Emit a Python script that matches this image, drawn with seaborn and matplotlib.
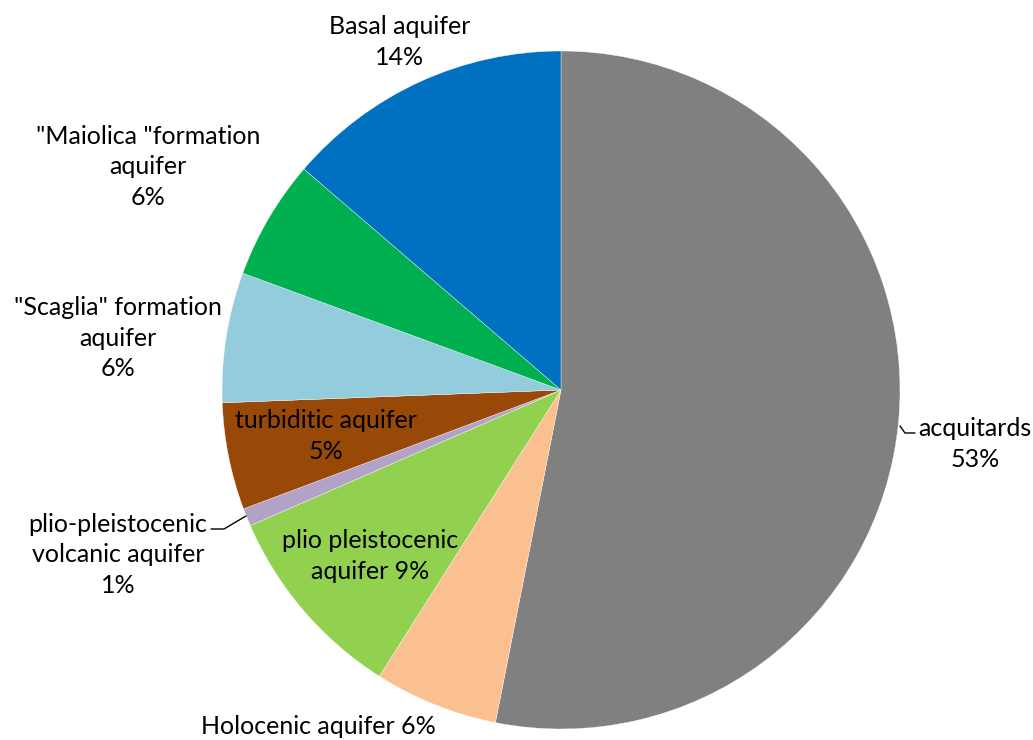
import matplotlib
matplotlib.use("Agg")
import matplotlib.pyplot as plt
import seaborn as sns

categories = ["acquitards", "Holocenic aquifer", "plio pleistocenic aquifer",
              "plio-pleistocenic volcanic aquifer", "turbiditic aquifer",
              "\"Scaglia\" formation aquifer", "\"Maiolica \"formation aquifer",
              "Basal aquifer"]
values = [53.1, 5.9, 9.45, 0.85, 5.1, 6.2, 5.7, 13.7]
colors = ["#808080", "#FAC090", "#92D050", "#B3A2C7", "#984807",
          "#93CDDD", "#00B050", "#0070C0"]

sns.set_theme(style="white")
plt.rcParams['font.family'] = ['Lato', 'DejaVu Sans']

W, H = 1033, 740
fig = plt.figure(figsize=(W / 100, H / 100), dpi=100)
ax = fig.add_axes([0, 0, 1, 1])

cx, cy, r = 561, H - 390, 339
ax.pie(values, colors=colors, startangle=90, counterclock=False,
       center=(cx, cy), radius=r, frame=True,
       wedgeprops=dict(linewidth=0.25, edgecolor='white'))
ax.set_xlim(0, W)
ax.set_ylim(0, H)
ax.set_aspect('equal')
ax.axis('off')

total = sum(values)
pct = [f"{round(v / total * 100)}%" for v in values]

fs = 18
ls = 1.42
def lab(x, y, s):
    ax.text(x, H - y, s, ha='center', va='center', fontsize=fs,
            linespacing=ls, color='black')

lab(975, 444, f"acquitards\n{pct[0]}")
lab(318, 727, f"Holocenic aquifer {pct[1]}")
lab(370, 556, f"plio pleistocenic\naquifer {pct[2]}")
lab(118, 555, f"plio-pleistocenic\nvolcanic aquifer\n{pct[3]}")
lab(326, 436, f"turbiditic aquifer\n{pct[4]}")
lab(118, 338, f"\"Scaglia\" formation\naquifer\n{pct[5]}")
lab(148, 167, f"\"Maiolica \"formation\naquifer\n{pct[6]}")
lab(400, 42, f"Basal aquifer\n{pct[7]}")

# leader lines
ax.plot([211, 224, 246], [H - 529, H - 529, H - 516], color='black', lw=1)
ax.plot([900, 905, 915], [H - 426, H - 433, H - 433], color='black', lw=1)

fig.savefig("out.png", dpi=100)
